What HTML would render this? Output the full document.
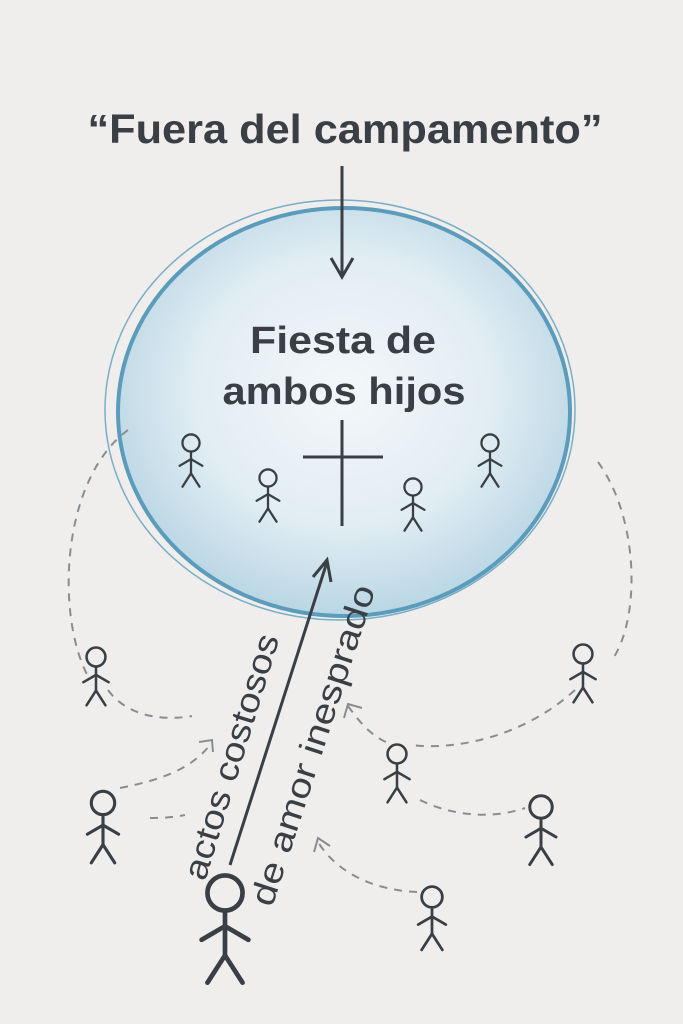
<!DOCTYPE html>
<html><head><meta charset="utf-8"><style>
html,body{margin:0;padding:0;background:#efeeec;}
svg{display:block}
</style></head><body>
<svg width="683" height="1024" viewBox="0 0 683 1024" xmlns="http://www.w3.org/2000/svg">
<defs>
<radialGradient id="g" cx="50%" cy="45%" r="55%">
<stop offset="0" stop-color="#f4f7f9"/><stop offset="0.6" stop-color="#e1edf3"/><stop offset="1" stop-color="#b9d6e4"/>
</radialGradient>
<g id="sf" stroke="#3a3f45" stroke-width="2.4" fill="none" stroke-linecap="round">
<circle cx="0" cy="0" r="9"/><line x1="0" y1="9" x2="0" y2="32"/><line x1="-12" y1="24" x2="0" y2="17"/><line x1="12" y1="24" x2="0" y2="17"/><line x1="0" y1="32" x2="-9" y2="46"/><line x1="0" y1="32" x2="9" y2="46"/>
</g>
</defs>
<rect width="683" height="1024" fill="#efeeec"/>
<text x="345" y="143" text-anchor="middle" font-family="Liberation Sans, sans-serif" font-size="41" font-weight="bold" fill="#3a3f45" textLength="515" lengthAdjust="spacingAndGlyphs">“Fuera del campamento”</text>
<ellipse cx="344" cy="412" rx="226" ry="204" fill="url(#g)" stroke="#5b9bbb" stroke-width="4"/>
<ellipse cx="340" cy="410" rx="235" ry="210" fill="none" stroke="#7aaec6" stroke-width="1.5"/>
<line x1="342" y1="166" x2="342" y2="276" stroke="#3a3f45" stroke-width="3"/>
<polyline points="331,258 342,277 353,258" fill="none" stroke="#3a3f45" stroke-width="3"/>
<text x="343" y="353" text-anchor="middle" font-family="Liberation Sans, sans-serif" font-size="38" font-weight="bold" fill="#3a3f45" textLength="186" lengthAdjust="spacingAndGlyphs">Fiesta de</text>
<text x="344" y="404" text-anchor="middle" font-family="Liberation Sans, sans-serif" font-size="38" font-weight="bold" fill="#3a3f45" textLength="243" lengthAdjust="spacingAndGlyphs">ambos hijos</text>
<g stroke="#3a3f45" stroke-width="3"><line x1="342" y1="420" x2="342" y2="526"/><line x1="303" y1="457" x2="383" y2="457"/></g>
<use href="#sf" transform="translate(191,443) scale(0.95)"/>
<use href="#sf" transform="translate(268,478) scale(0.95)"/>
<use href="#sf" transform="translate(413,487) scale(0.95)"/>
<use href="#sf" transform="translate(490,443) scale(0.95)"/>
<g fill="none" stroke="#8a8d90" stroke-width="2" stroke-dasharray="8,7">
<path d="M128,430 C60,480 55,620 90,680"/>
<path d="M108,690 C130,720 170,720 192,716"/>
<path d="M598,462 C640,520 640,620 612,660"/>
<path d="M575,690 C520,740 450,750 412,745"/>
<path d="M386,742 C370,735 358,720 348,706"/>
<path d="M120,788 C160,780 190,770 210,745"/>
<path d="M150,818 C165,818 175,817 185,815"/>
<path d="M420,800 C450,815 490,820 525,808"/>
<path d="M417,892 C370,890 335,870 318,842"/>
</g>
<g fill="none" stroke="#8a8d90" stroke-width="2"><polyline points="344,718 348,704 362,708"/><polyline points="199,742 212,740 213,752"/><polyline points="314,852 318,838 330,846"/></g>
<use href="#sf" transform="translate(96,657) scale(1.05)"/>
<use href="#sf" transform="translate(583,654) scale(1.05)"/>
<use href="#sf" transform="translate(397,754) scale(1.05)"/>
<use href="#sf" transform="translate(103,803) scale(1.3)"/>
<use href="#sf" transform="translate(541,807) scale(1.25)"/>
<use href="#sf" transform="translate(432,897) scale(1.15)"/>
<use href="#sf" transform="translate(225,893) scale(1.95)"/>
<line x1="230" y1="865" x2="327" y2="562" stroke="#3a3f45" stroke-width="3"/>
<polyline points="313,577 327,560 331,582" fill="none" stroke="#3a3f45" stroke-width="3"/>
<text transform="translate(205,882) rotate(-73)" font-family="Liberation Sans, sans-serif" font-size="34" fill="#3a3f45" textLength="255" lengthAdjust="spacingAndGlyphs">actos costosos</text>
<text transform="translate(272,908) rotate(-72)" font-family="Liberation Sans, sans-serif" font-size="34" fill="#3a3f45" textLength="335" lengthAdjust="spacingAndGlyphs">de amor inesprado</text>
</svg>
</body></html>
